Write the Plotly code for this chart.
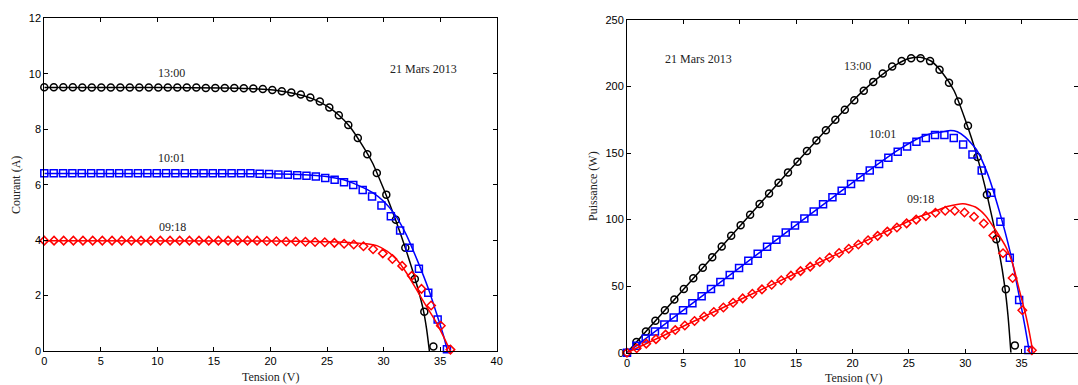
import plotly.graph_objects as go

# ---------------- data: measured points ----------------
V_1300 = [0, 0.84, 1.68, 2.52, 3.36, 4.2, 5.04, 5.88, 6.72, 7.56, 8.4, 9.24, 10.08, 10.92, 11.76,
          12.6, 13.44, 14.28, 15.12, 15.96, 16.8, 17.64, 18.48, 19.32, 20.16, 21.0, 21.84, 22.68,
          23.52, 24.36, 25.2, 26.04, 26.88, 27.72, 28.56, 29.4, 30.24, 31.08, 31.92, 32.76, 33.6, 34.4]
I_1300 = [9.51, 9.51, 9.51, 9.51, 9.5, 9.5, 9.5, 9.5, 9.5, 9.5, 9.5, 9.5, 9.5, 9.5, 9.5, 9.5, 9.5,
          9.49, 9.49, 9.49, 9.49, 9.48, 9.47, 9.45, 9.41, 9.37, 9.32, 9.25, 9.14, 9.0,
          8.78, 8.5, 8.15, 7.68, 7.1, 6.42, 5.64, 4.73, 3.72, 2.6, 1.42, 0.16]
P_1300 = [0, 8.0, 16.0, 24.0, 31.9, 39.9, 47.9, 55.9, 63.8, 71.8, 79.8, 87.8, 95.8, 103.7, 111.7,
          119.7, 127.7, 135.5, 143.5, 151.5, 159.4, 167.2, 175.0, 182.6, 189.7, 196.8, 203.5, 209.8,
          215.0, 219.2, 221.3, 221.3, 219.1, 212.7, 202.8, 188.7, 170.6, 147.0, 118.7, 85.2, 47.7, 5.5]

V_1001 = [0, 0.83, 1.66, 2.48, 3.31, 4.14, 4.97, 5.8, 6.62, 7.45, 8.28, 9.11, 9.94, 10.76, 11.59,
          12.42, 13.25, 14.08, 14.9, 15.73, 16.56, 17.39, 18.22, 19.04, 19.87, 20.7, 21.53, 22.36,
          23.18, 24.01, 24.84, 25.67, 26.5, 27.32, 28.15, 28.98, 29.81, 30.64, 31.46, 32.29, 33.12,
          33.95, 34.78, 35.6]
I_1001 = [6.41, 6.41, 6.41, 6.41, 6.41, 6.41, 6.41, 6.41, 6.41, 6.41, 6.41, 6.41, 6.41, 6.41, 6.41,
          6.41, 6.41, 6.41, 6.41, 6.41, 6.41, 6.41, 6.41, 6.39, 6.38, 6.37, 6.36, 6.34, 6.32, 6.29,
          6.24, 6.18, 6.09, 5.99, 5.81, 5.57, 5.25, 4.86, 4.35, 3.72, 2.97, 2.10, 1.14, 0.06]
P_1001 = [0, 5.3, 10.6, 15.9, 21.2, 26.5, 31.9, 37.2, 42.4, 47.8, 53.1, 58.4, 63.7, 69.0, 74.3,
          79.6, 84.9, 90.3, 95.5, 100.8, 106.1, 111.5, 116.8, 121.7, 126.8, 131.9, 136.9, 141.8,
          146.5, 151.0, 155.0, 158.6, 161.4, 163.6, 163.6, 161.4, 156.5, 148.9, 136.9, 120.1, 98.4,
          71.3, 39.6, 2.1]

V_0918 = [0, 0.86, 1.71, 2.57, 3.42, 4.28, 5.13, 5.99, 6.84, 7.7, 8.55, 9.41, 10.26, 11.12, 11.97,
          12.83, 13.68, 14.54, 15.39, 16.25, 17.1, 17.96, 18.81, 19.67, 20.52, 21.38, 22.23, 23.09,
          23.94, 24.8, 25.65, 26.51, 27.36, 28.22, 29.07, 29.93, 30.78, 31.64, 32.49, 33.35, 34.2,
          35.06, 35.91]
I_0918 = [3.98, 3.98, 3.98, 3.98, 3.98, 3.98, 3.98, 3.98, 3.98, 3.98, 3.98, 3.98, 3.98, 3.98, 3.98,
          3.98, 3.98, 3.98, 3.98, 3.98, 3.98, 3.98, 3.98, 3.97, 3.96, 3.95, 3.95, 3.94, 3.93, 3.92,
          3.9, 3.87, 3.84, 3.78, 3.67, 3.52, 3.32, 3.07, 2.71, 2.24, 1.64, 0.91, 0.05]
P_0918 = [0, 3.4, 6.8, 10.2, 13.6, 17.0, 20.4, 23.8, 27.2, 30.6, 34.0, 37.5, 40.8, 44.3, 47.6,
          51.1, 54.4, 57.9, 61.3, 64.7, 68.1, 71.5, 74.9, 78.1, 81.3, 84.5, 87.8, 91.0, 94.1, 97.2,
          100.0, 102.6, 105.1, 106.7, 106.7, 105.4, 102.2, 97.1, 88.0, 74.7, 56.1, 31.9, 1.8]

# ---------------- data: model curves ----------------
Vm_I_1300 = [0, 10, 16, 18, 20, 21, 22, 23, 24, 25, 26, 27, 28, 29, 30, 31, 32, 33, 33.5, 33.8, 34.05]
Im_1300 = [9.5, 9.5, 9.49, 9.47, 9.42, 9.37, 9.3, 9.2, 9.05, 8.83, 8.52, 8.1, 7.5, 6.8, 5.85, 4.8,
           3.62, 2.3, 1.5, 0.8, 0]
Vm_I_1001 = [0, 20, 24, 26, 27, 28, 29, 30, 31, 32, 33, 34, 34.8, 35.3, 35.65]
Im_1001 = [6.4, 6.39, 6.33, 6.22, 6.1, 5.93, 5.72, 5.4, 4.92, 4.2, 3.25, 2.2, 1.2, 0.55, 0]
Vm_I_0918 = [0, 20, 25, 27, 28.5, 29.4, 30.3, 31.15, 32.0, 32.9, 33.8, 34.7, 35.3, 35.9]
Im_0918 = [3.98, 3.97, 3.94, 3.91, 3.87, 3.8, 3.6, 3.3, 2.83, 2.22, 1.6, 1.0, 0.52, 0]

Vm_P_1300 = [0, 5, 10, 15, 20, 22, 24, 25, 26, 27, 28, 29, 30, 31, 32, 33, 33.5, 33.8, 34.05]
Pm_1300 = [0, 47.5, 95, 142.5, 189, 204.6, 217, 221, 222, 219, 210, 197, 175, 149, 116, 76, 50, 27, 0]
Vm_P_1001 = [0, 10, 20, 24, 26, 27, 28, 28.7, 29.3, 30, 31, 32, 33, 34, 34.8, 35.3, 35.7]
Pm_1001 = [0, 64, 127.8, 152, 161.7, 164.7, 166, 167, 166, 162, 152.5, 134, 107, 75, 42, 19.5, 0]
Vm_P_0918 = [0, 10, 20, 24, 26, 27.5, 28.5, 29.8, 30.9, 31.8, 32.7, 33.6, 34.2, 34.8, 35.4, 35.8, 36.0]
Pm_0918 = [0, 39.8, 79.5, 95, 102.5, 107, 110, 112, 109.5, 103, 92, 79.5, 67, 47, 27, 10, 0]

x_ticks = [0, 5, 10, 15, 20, 25, 30, 35, 40]
yI_ticks = [0, 2, 4, 6, 8, 10, 12]
yP_ticks = [0, 50, 100, 150, 200, 250]

# ---------------- figure ----------------
W, H = 1078, 385
BLACK, BLUE, RED = "#000000", "#0000ff", "#ff0000"
fig = go.Figure()

def add_series(xm, ym, xl, yl, color, symbol, size, xa, ya):
    fig.add_trace(go.Scatter(x=xl, y=yl, mode="lines", line=dict(color=color, width=1.5, shape="spline", smoothing=0.6),
                             xaxis=xa, yaxis=ya, showlegend=False, cliponaxis=False, hoverinfo="skip"))
    fig.add_trace(go.Scatter(x=xm, y=ym, mode="markers",
                             marker=dict(symbol=symbol, size=size, color=color, line=dict(color=color, width=1.5)),
                             xaxis=xa, yaxis=ya, showlegend=False, cliponaxis=False))

add_series(V_1300, I_1300, Vm_I_1300, Im_1300, BLACK, "circle-open", 7, "x", "y")
add_series(V_1001, I_1001, Vm_I_1001, Im_1001, BLUE, "square-open", 7, "x", "y")
add_series(V_0918, I_0918, Vm_I_0918, Im_0918, RED, "diamond-open", 6.5, "x", "y")
add_series(V_1300, P_1300, Vm_P_1300, Pm_1300, BLACK, "circle-open", 7, "x2", "y2")
add_series(V_1001, P_1001, Vm_P_1001, Pm_1001, BLUE, "square-open", 7, "x2", "y2")
add_series(V_0918, P_0918, Vm_P_0918, Pm_0918, RED, "diamond-open", 6.5, "x2", "y2")

tickfont = dict(family="Liberation Sans, Arial, sans-serif", size=11, color="#000")
common = dict(showline=True, linecolor="#000", linewidth=1, mirror="ticks", ticks="inside", ticklen=4,
              tickcolor="#000", tickwidth=1, showgrid=False, zeroline=False, tickfont=tickfont,
              automargin=False)

fig.update_layout(
    width=W, height=H, margin=dict(l=0, r=0, t=0, b=0),
    paper_bgcolor="white", plot_bgcolor="white",
    xaxis=dict(domain=[44.3 / W, 496.7 / W], range=[0, 40], tickvals=x_ticks, anchor="y", **common),
    yaxis=dict(domain=[(H - 351) / H, (H - 18.3) / H], range=[0, 12], tickvals=yI_ticks, anchor="x", **common),
    xaxis2=dict(domain=[627 / W, 1.0], range=[0, 40], tickvals=x_ticks, anchor="y2", **common),
    yaxis2=dict(domain=[(H - 352.7) / H, (H - 20) / H], range=[0, 250], tickvals=yP_ticks, anchor="x2", **common),
)

serif = dict(family="Liberation Serif, Times New Roman, serif", size=12, color="#222")
ann = []
# data labels
for txt, x, y, xr, yr in [("13:00", 11.27, 10.02, "x", "y"), ("10:01", 11.27, 6.97, "x", "y"),
                          ("09:18", 11.35, 4.48, "x", "y"), ("21 Mars 2013", 33.5, 10.17, "x", "y"),
                          ("13:00", 20.42, 215.4, "x2", "y2"), ("10:01", 22.66, 164.3, "x2", "y2"),
                          ("09:18", 26.06, 115.3, "x2", "y2"), ("21 Mars 2013", 6.3, 220.5, "x2", "y2")]:
    ann.append(dict(text=txt, x=x, y=y, xref=xr, yref=yr, showarrow=False, font=serif,
                    xanchor="center", yanchor="middle"))
# axis titles
ann.append(dict(text="Tension (V)", x=270 / W, y=(H - 377) / H, xref="paper", yref="paper", showarrow=False,
                font=serif, xanchor="center", yanchor="middle"))
ann.append(dict(text="Tension (V)", x=853 / W, y=(H - 378) / H, xref="paper", yref="paper", showarrow=False,
                font=serif, xanchor="center", yanchor="middle"))
ann.append(dict(text="Courant (A)", x=16 / W, y=(H - 185) / H, xref="paper", yref="paper", showarrow=False,
                font=serif, xanchor="center", yanchor="middle", textangle=-90))
ann.append(dict(text="Puissance (W)", x=593 / W, y=(H - 186) / H, xref="paper", yref="paper", showarrow=False,
                font=serif, xanchor="center", yanchor="middle", textangle=-90))
fig.update_layout(annotations=ann)

fig.write_html("out.html")
